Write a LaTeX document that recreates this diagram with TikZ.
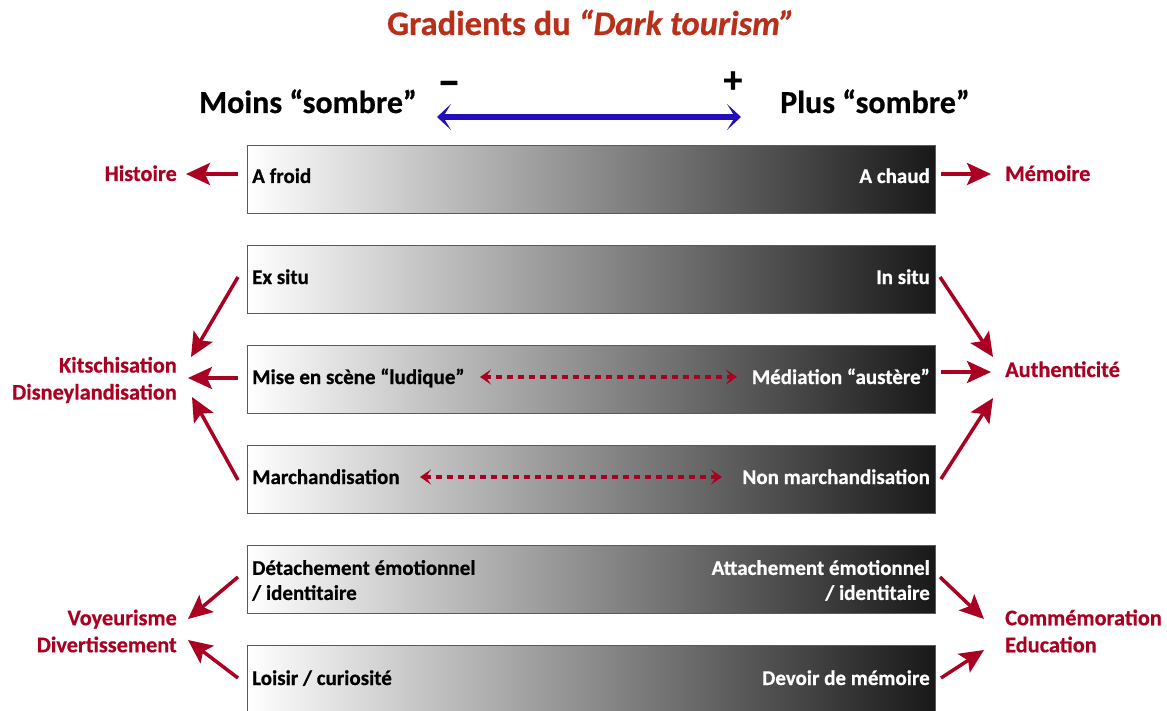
\documentclass[tikz,border=0pt]{standalone}
\usepackage{fontspec}
\setmainfont{Carlito}[BoldFeatures={FakeBold=0.6},BoldItalicFeatures={FakeBold=0.6}]
\usetikzlibrary{arrows.meta}
\definecolor{titlered}{RGB}{184,48,26}
\definecolor{lblred}{RGB}{170,0,34}
\definecolor{arrblue}{RGB}{34,14,186}
\definecolor{barend}{RGB}{24,24,24}
\definecolor{barborder}{RGB}{90,90,90}
\begin{document}
\begin{tikzpicture}[x=1pt,y=-1pt,
  bar/.style={draw=barborder,line width=1.3pt,left color=white,right color=barend,minimum width=688pt,minimum height=68pt,inner sep=0pt,anchor=north west},
  ltext/.style={font=\bfseries\fontsize{21}{25}\selectfont,text=black,inner sep=0pt},
  rtext/.style={font=\bfseries\fontsize{21}{25}\selectfont,text=white,inner sep=0pt},
  lbl/.style={font=\bfseries\fontsize{22.3}{27}\selectfont,text=lblred,inner sep=0pt},
  redarrow/.style={draw=lblred,line width=3.5pt,-{Stealth[length=24pt,width=22pt,inset=5pt]}},
  dotarrow/.style={draw=lblred,line width=4pt,dash pattern=on 6pt off 5pt,{Stealth[length=11pt,width=15pt,inset=5pt]}-{Stealth[length=11pt,width=15pt,inset=5pt]}},
  bluearrow/.style={draw=arrblue,line width=5.5pt,{Stealth[length=14pt,width=26pt,inset=8pt]}-{Stealth[length=14pt,width=26pt,inset=8pt]}},
  head/.style={font=\bfseries\fontsize{32}{36}\selectfont,inner sep=0pt}
]
\useasboundingbox (0,0) rectangle (1167,711);

% title and scale
\node[font=\bfseries\fontsize{34.5}{40}\selectfont,text=titlered,anchor=base,inner sep=0pt] (title) at (591,35) {Gradients du \textit{“Dark tourism”}};
\node[head,anchor=base] (moins) at (308,113) {Moins “sombre”};
\node[head,anchor=base] (plus) at (875,113) {Plus “sombre”};
\node[font=\bfseries\fontsize{46}{50}\selectfont,inner sep=0pt,anchor=base] (minus) at (449,96) {–};
\node[font=\bfseries\fontsize{38}{42}\selectfont,inner sep=0pt] (plussign) at (733,82) {+};
\coordinate (sL) at (437,117);
\coordinate (sR) at (741,117);
\draw[bluearrow] (sL) -- (sR);

% bars
\node[bar] (b1) at (247,145) {};
\node[bar] (b2) at (247,245) {};
\node[bar] (b3) at (247,345) {};
\node[bar] (b4) at (247,445) {};
\node[bar] (b5) at (247,545) {};
\node[bar] (b6) at (247,645) {};

% bar texts
\node[ltext,anchor=base west] (t1l) at (252,183) {A froid};
\node[rtext,anchor=base east] (t1r) at (930,183) {A chaud};
\node[ltext,anchor=base west] (t2l) at (252,284) {Ex situ};
\node[rtext,anchor=base east] (t2r) at (930,284) {In situ};
\node[ltext,anchor=base west] (t3l) at (252,384) {Mise en scène “ludique”};
\node[rtext,anchor=base east] (t3r) at (930,384) {Médiation “austère”};
\node[ltext,anchor=base west] (t4l) at (252,484) {Marchandisation};
\node[rtext,anchor=base east] (t4r) at (930,484) {Non marchandisation};
\node[ltext,anchor=west,align=left] (t5l) at (252,580.5) {Détachement émotionnel\\/ identitaire};
\node[rtext,anchor=east,align=right] (t5r) at (930,580.5) {Attachement émotionnel\\/ identitaire};
\node[ltext,anchor=base west] (t6l) at (252,685) {Loisir / curiosité};
\node[rtext,anchor=base east] (t6r) at (930,685) {Devoir de mémoire};

% dotted arrows
\coordinate (d3a) at (480,377);
\coordinate (d3b) at (737,377);
\coordinate (d4a) at (420,477);
\coordinate (d4b) at (722,477);
\draw[dotarrow] (d3a) -- (d3b);
\draw[dotarrow] (d4a) -- (d4b);

% labels
\node[lbl,anchor=base east] (hist) at (177,181) {Histoire};
\node[lbl,anchor=base west] (mem) at (1005,181) {Mémoire};
\node[lbl,anchor=east,align=right] (kitsch) at (177,380) {Kitschisation\\Disneylandisation};
\node[lbl,anchor=base west] (auth) at (1005,377) {Authenticité};
\node[lbl,anchor=east,align=right] (voy) at (177,631) {Voyeurisme\\Divertissement};
\node[lbl,anchor=west,align=left] (comm) at (1005,631) {Commémoration\\Education};

% arrow end points
\coordinate (a1s) at (238,174); \coordinate (a1e) at (186,174);
\coordinate (a2s) at (941,174); \coordinate (a2e) at (991,174);
\coordinate (k1s) at (238,277); \coordinate (k1e) at (191,357);
\coordinate (k2s) at (238,378); \coordinate (k2e) at (188,378);
\coordinate (k3s) at (238,480); \coordinate (k3e) at (192,397);
\coordinate (u1s) at (940,277); \coordinate (u1e) at (993,357);
\coordinate (u2s) at (941,372); \coordinate (u2e) at (991,372);
\coordinate (u3s) at (941,479); \coordinate (u3e) at (993,398);
\coordinate (v1s) at (238,577); \coordinate (v1e) at (188,619);
\coordinate (v2s) at (238,678); \coordinate (v2e) at (188,640);
\coordinate (c1s) at (940,577); \coordinate (c1e) at (984,619);
\coordinate (c2s) at (941,678); \coordinate (c2e) at (984,650);

\draw[redarrow] (a1s) -- (a1e);
\draw[redarrow] (a2s) -- (a2e);
\draw[redarrow] (k1s) -- (k1e);
\draw[redarrow] (k2s) -- (k2e);
\draw[redarrow] (k3s) -- (k3e);
\draw[redarrow] (u1s) -- (u1e);
\draw[redarrow] (u2s) -- (u2e);
\draw[redarrow] (u3s) -- (u3e);
\draw[redarrow] (v1s) -- (v1e);
\draw[redarrow] (v2s) -- (v2e);
\draw[redarrow] (c1s) -- (c1e);
\draw[redarrow] (c2s) -- (c2e);
\end{tikzpicture}
\end{document}
